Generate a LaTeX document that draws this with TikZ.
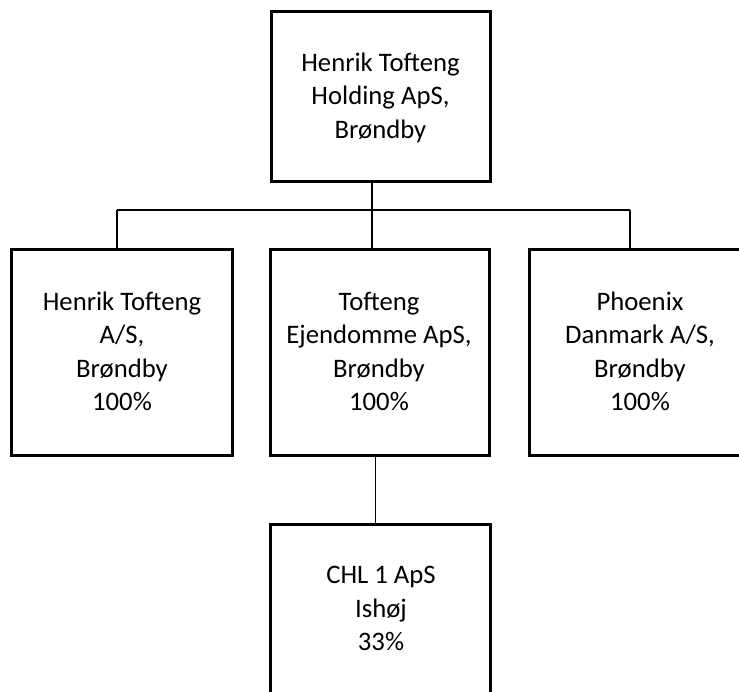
\documentclass[tikz,border=0pt]{standalone}
\usepackage{fontspec}
\setmainfont{Carlito}
\begin{document}
\begin{tikzpicture}[x=1pt,y=-1pt,
  orgbox/.style={draw=black,line width=3pt,fill=white,inner sep=0pt,outer sep=0pt,minimum width=#1},
  orgbox/.default=220pt,
  txt/.style={align=center,font=\fontsize{26.7}{33.5}\selectfont,inner sep=0pt},
  conn/.style={draw=black,line width=1.3pt}]
\useasboundingbox[fill=white] (0,0) rectangle (739,691);
\begin{scope}
\clip (0,0) rectangle (739,691);
% boxes
\node[orgbox=219pt,minimum height=170pt] (top) at (380.5,96) {};
\node[orgbox=221pt,minimum height=206pt] (left) at (121.5,352) {};
\node[orgbox=219pt,minimum height=206pt] (mid) at (379.5,352) {};
\node[orgbox=222pt,minimum height=206pt] (right) at (640,352) {};
\node[orgbox=220pt,minimum height=206pt] (bot) at (380,627) {};
% texts
\node[txt] (ttop) at (380.5,97.5) {Henrik Tofteng\\Holding ApS,\\Brøndby};
\node[txt] (tleft) at (122,351.5) {Henrik Tofteng\\A/S,\\Brøndby\\100\%};
\node[txt] (tmid) at (379,351.5) {Tofteng\\Ejendomme ApS,\\Brøndby\\100\%};
\node[txt] (tright) at (640,351.5) {Phoenix\\Danmark A/S,\\Brøndby\\100\%};
\node[txt] (tbot) at (381,608.5) {CHL 1 ApS\\Ishøj\\33\%};
% connectors
\coordinate (cl) at (117,210);
\coordinate (cm) at (372,210);
\coordinate (cr) at (630,210);
\coordinate (cb) at (375.7,490);
\draw[conn] (cl) -- (cr);
\draw[conn] (top.south -| cm) -- (cm);
\draw[conn] (cl) -- (left.north -| cl);
\draw[conn] (cm) -- (mid.north -| cm);
\draw[conn] (cr) -- (right.north -| cr);
\draw[conn] (mid.south -| cb) -- (bot.north -| cb);
\end{scope}
\end{tikzpicture}
\end{document}
